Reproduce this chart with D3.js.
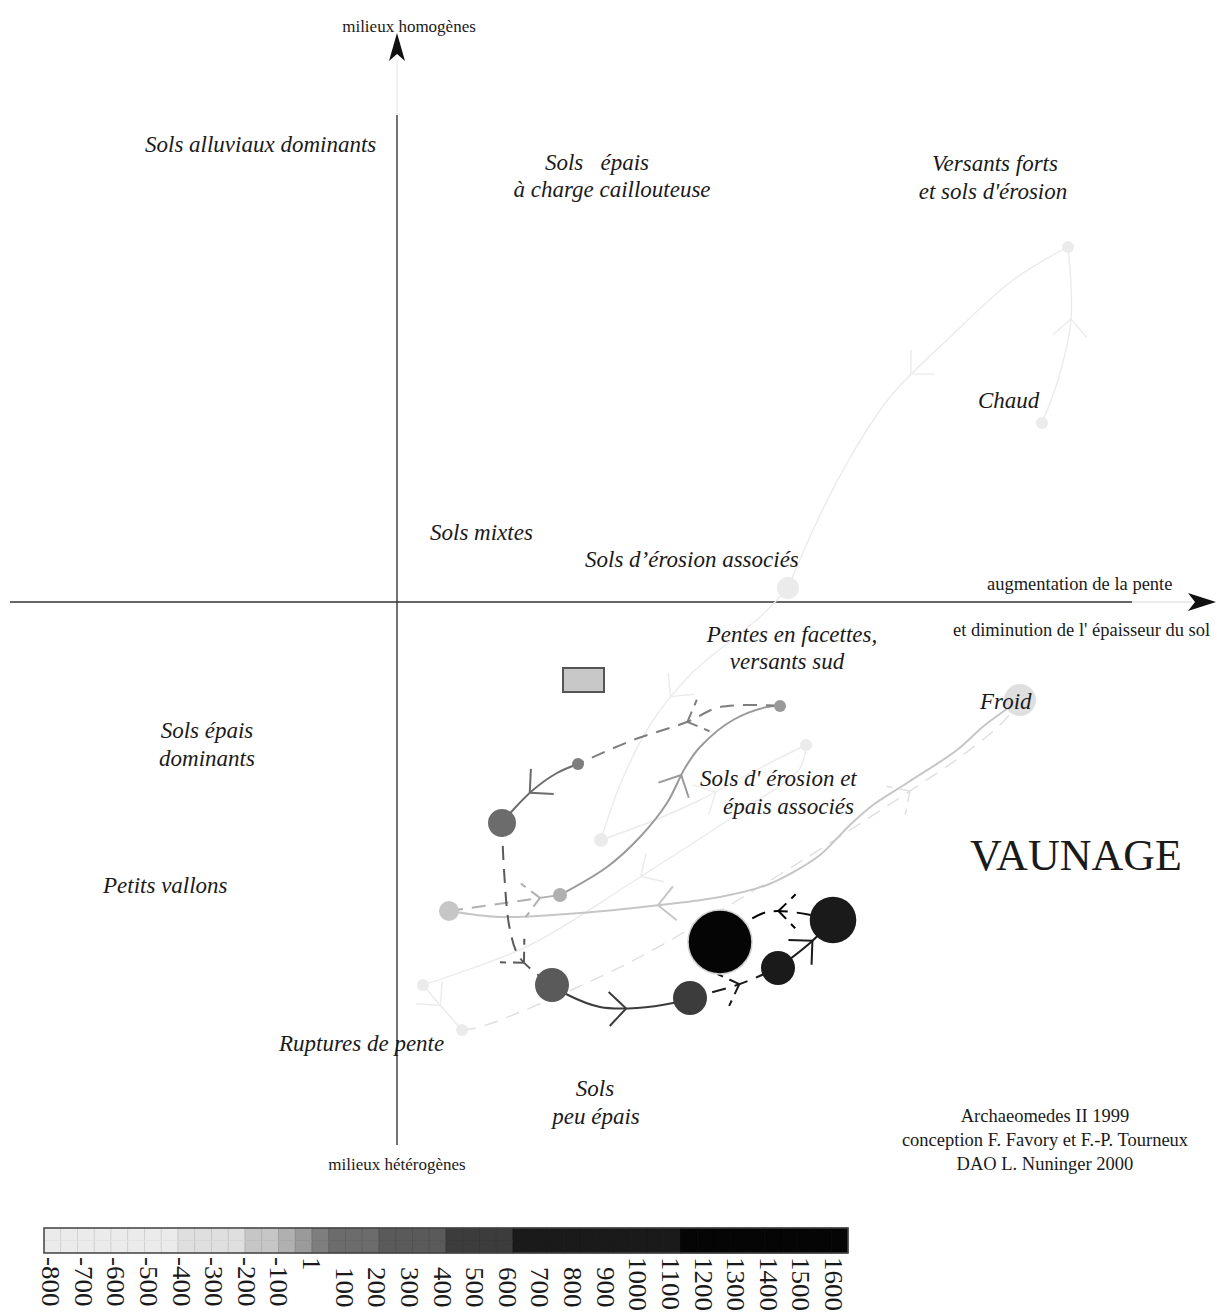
<!DOCTYPE html>
<html>
<head>
<meta charset="utf-8">
<script src="https://cdn.jsdelivr.net/npm/d3@7"></script>
<style>
  body { margin: 0; background: #fff; }
  svg text { font-family: "Liberation Serif", "Times New Roman", serif; fill: #1a1a1a; white-space: pre; }
  .zone { font-style: italic; font-size: 23px; }
  .plain { font-size: 18.5px; }
</style>
</head>
<body>
<svg id="chart" width="1217" height="1313"></svg>
<script>
// periods on the factor plane (x: slope / soil thickness, y: homogeneity)
const nodeX     = [6.71, 6.45, 3.91, 6.23, 3.83, 1.81, 1.05, 4.09, 2.04, 1.63, 0.52, 3.23, 4.36, 3.81, 1.55, 2.93, 0.26, 0.65];
const nodeY     = [3.55, 1.79, 0.14, -0.98, -1.04, -1.62, -2.21, -1.43, -2.38, -2.93, -3.09, -3.40, -3.18, -3.66, -3.83, -3.96, -3.83, -4.28];
const nodeValue = [-600, -600, -600, -300, -20, 20, 100, -600, -600, -70, -150, 1300, 800, 900, 300, 500, -600, -600];
const nodeSites = [35, 35, 118, 250, 35, 35, 191, 35, 48, 48, 98, 1000, 530, 282, 282, 282, 35, 35];

// trajectory steps: source, target, dashed?, intermediate points, arrow position along the step
const linkSource = [1, 0, 2, 8, 7, 16, 17, 3, 10, 9, 4, 5, 6, 14, 15, 13, 12];
const linkTarget = [0, 2, 8, 7, 16, 17, 3, 10, 9, 4, 5, 6, 14, 15, 13, 12, 11];
const linkDashed = [false, false, false, false, false, false, true, false, true, false, true, false, true, false, true, false, true];
const linkVia = [
  [[6.61, 2.22], [6.74, 2.82]],
  [[6.16, 3.22], [5.50, 2.62], [4.93, 2.05], [4.50, 1.39], [4.16, 0.72]],
  [[3.63, -0.15], [2.93, -0.73], [2.53, -1.23], [2.23, -1.83]],
  [[2.53, -2.20], [3.03, -1.98], [3.63, -1.66]],
  [[4.03, -1.66], [3.46, -2.08], [2.43, -2.75], [1.33, -3.43]],
  [[0.43, -4.03]],
  [[0.83, -4.25], [1.63, -3.93], [2.43, -3.55], [3.36, -3.01], [4.03, -2.60], [4.53, -2.28], [5.10, -1.91], [5.70, -1.50], [6.08, -1.18]],
  [[5.88, -1.23], [5.60, -1.48], [5.10, -1.81], [4.76, -2.03], [4.53, -2.23], [4.23, -2.53], [3.93, -2.72], [3.70, -2.83], [3.23, -2.95], [2.63, -3.03], [1.70, -3.12], [1.03, -3.15]],
  [],
  [[2.10, -2.65], [2.43, -2.35], [2.70, -2.01], [2.88, -1.66], [3.03, -1.45], [3.36, -1.18], [3.70, -1.05]],
  [[3.23, -1.05], [2.90, -1.20], [2.36, -1.38]],
  [[1.60, -1.71], [1.36, -1.88], [1.16, -2.08]],
  [[1.07, -2.68], [1.13, -3.28], [1.23, -3.56]],
  [[1.71, -3.93], [2.03, -4.05], [2.40, -4.06], [2.76, -4.01]],
  [[3.40, -3.83]],
  [[4.13, -3.41]],
  [[3.70, -3.10]]
];
const linkArrowAt = [0.6, 0.45, 0.5, 0.55, 0.47, 0.45, 0.78, 0.67, 0.82, 0.58, 0.45, 0.58, 0.8, 0.55, 0.55, 0.6, 0.45];

// grey classes of the legend bar
const legendLabels = ['-800', '-700', '-600', '-500', '-400', '-300', '-200', '-100', '1', '100', '200', '300', '400', '500', '600', '700', '800', '900', '1000', '1100', '1200', '1300', '1400', '1500', '1600'];
const legendBreaks = [-400, -200, -100, -50, 1, 50, 200, 400, 600, 1100];
const legendGreys  = ['#ebebeb', '#dfdfdf', '#c6c6c6', '#b0b0b0', '#9a9a9a', '#7e7e7e', '#6c6c6c', '#5a5a5a', '#3c3c3c', '#1a1a1a', '#050505'];

// texts placed on the plane
const zoneText   = ['Sols alluviaux dominants', 'Sols   épais', 'à charge caillouteuse', 'Versants forts', "et sols d'érosion", 'Chaud', 'Sols mixtes', 'Sols d’érosion associés', 'Pentes en facettes,', 'versants sud', 'Froid', 'Sols épais', 'dominants', "Sols d' érosion et", 'épais associés', 'Petits vallons', 'Ruptures de pente', 'Sols', 'peu épais'];
const zoneX      = [-2.52, 2.00, 2.15, 5.98, 5.96, 5.81, 0.33, 1.88, 3.95, 3.90, 5.83, -1.90, -1.90, 3.03, 4.57, -2.94, -1.18, 1.98, 1.99];
const zoneY      = [4.50, 4.32, 4.05, 4.31, 4.03, 1.94, 0.62, 0.35, -0.40, -0.67, -1.07, -1.36, -1.64, -1.84, -2.12, -2.91, -4.49, -4.94, -5.22];
const zoneAnchor = ['start', 'middle', 'middle', 'middle', 'middle', 'start', 'start', 'start', 'middle', 'middle', 'start', 'middle', 'middle', 'start', 'end', 'start', 'start', 'middle', 'middle'];

const creditLines = ['Archaeomedes II 1999', 'conception F. Favory et F.-P. Tourneux', 'DAO L. Nuninger 2000'];

const svg = d3.select('#chart');
const x = d3.scaleLinear().domain([-4, 8]).range([-3, 1197]);
const y = d3.scaleLinear().domain([6, -7]).range([2, 1302]);
const grey = d3.scaleThreshold().domain(legendBreaks).range(legendGreys);
const radius = d3.scaleSqrt().domain([0, d3.max(nodeSites)]).range([0, 32]);

// axes
const axes = svg.append('g');
axes.append('line').attr('x1', x(0)).attr('x2', x(0)).attr('y1', y(4.87)).attr('y2', y(-5.43))
  .attr('stroke', '#444').attr('stroke-width', 1.5);
axes.append('line').attr('x1', x(0)).attr('x2', x(0)).attr('y1', y(5.42)).attr('y2', y(4.87))
  .attr('stroke', '#e4e4e4').attr('stroke-width', 1);
axes.append('line').attr('x1', x(-3.87)).attr('x2', x(7.35)).attr('y1', y(0)).attr('y2', y(0))
  .attr('stroke', '#333').attr('stroke-width', 1.5);
axes.append('line').attr('x1', x(7.35)).attr('x2', x(7.95)).attr('y1', y(0)).attr('y2', y(0))
  .attr('stroke', '#d8d8d8').attr('stroke-width', 1);
const tipY = [x(0), y(5.69)];
axes.append('path').attr('fill', '#111')
  .attr('d', `M${tipY[0]},${tipY[1]} L${tipY[0] + 8},${tipY[1] + 28} L${tipY[0]},${tipY[1] + 21} L${tipY[0] - 8},${tipY[1] + 28}Z`);
const tipX = [x(8.19), y(0)];
axes.append('path').attr('fill', '#111')
  .attr('d', `M${tipX[0]},${tipX[1]} L${tipX[0] - 28},${tipX[1] - 9} L${tipX[0] - 21},${tipX[1]} L${tipX[0] - 28},${tipX[1] + 9}Z`);

axes.append('text').attr('class', 'plain').attr('x', x(0.12)).attr('y', 32).attr('text-anchor', 'middle').style('font-size', '17px').text('milieux homogènes');
axes.append('text').attr('class', 'plain').attr('x', x(0)).attr('y', 1170).attr('text-anchor', 'middle').style('font-size', '17px').text('milieux hétérogènes');
axes.append('text').attr('class', 'plain').attr('x', 987).attr('y', 590).text('augmentation de la pente');
axes.append('text').attr('class', 'plain').attr('x', 953).attr('y', 636).text("et diminution de l' épaisseur du sol");

// trajectory
const line = d3.line().x((d) => x(d[0])).y((d) => y(d[1])).curve(d3.curveCatmullRom.alpha(0.5));
const links = svg.append('g').attr('fill', 'none');

linkSource.forEach((s, i) => {
  const t = linkTarget[i];
  const pts = [[nodeX[s], nodeY[s]], ...linkVia[i], [nodeX[t], nodeY[t]]];
  const color = grey(nodeValue[t]);
  const dashed = linkDashed[i];
  const width = nodeValue[t] < -250 ? 1.4 : 2;
  const path = links.append('path')
    .attr('d', line(pts))
    .attr('stroke', color)
    .attr('stroke-width', width)
    .attr('stroke-dasharray', dashed ? '14,9' : null);

  // open chevron pointing along the step
  const node = path.node();
  const len = node.getTotalLength();
  const at = len * linkArrowAt[i];
  const p = node.getPointAtLength(at);
  const p0 = node.getPointAtLength(Math.max(0, at - 2));
  const p1 = node.getPointAtLength(Math.min(len, at + 2));
  const a = Math.atan2(p1.y - p0.y, p1.x - p0.x);
  const arm = 24;
  const spread = Math.PI / 4;
  [a + Math.PI - spread, a + Math.PI + spread].forEach((b) => {
    links.append('line')
      .attr('x1', p.x).attr('y1', p.y)
      .attr('x2', p.x + arm * Math.cos(b)).attr('y2', p.y + arm * Math.sin(b))
      .attr('stroke', color)
      .attr('stroke-width', width)
      .attr('stroke-dasharray', dashed ? '11,7' : null);
  });
});

// the small grey box
svg.append('rect')
  .attr('x', x(1.66)).attr('y', y(-0.66))
  .attr('width', x(2.07) - x(1.66)).attr('height', y(-0.90) - y(-0.66))
  .attr('fill', '#c8c8c8').attr('stroke', '#555').attr('stroke-width', 2);

// periods
svg.append('g').selectAll('circle')
  .data(nodeX)
  .join('circle')
  .attr('cx', (d) => x(d))
  .attr('cy', (d, i) => y(nodeY[i]))
  .attr('r', (d, i) => radius(nodeSites[i]))
  .attr('fill', (d, i) => grey(nodeValue[i]))
  .attr('stroke', (d, i) => (nodeValue[i] > 1000 ? '#d0d0d0' : 'none'))
  .attr('stroke-width', 1.5);

// zone names
svg.append('g').selectAll('text')
  .data(zoneText)
  .join('text')
  .attr('class', 'zone')
  .attr('x', (d, i) => x(zoneX[i]))
  .attr('y', (d, i) => y(zoneY[i]))
  .attr('text-anchor', (d, i) => zoneAnchor[i])
  .text((d) => d);

svg.append('text').attr('x', 970).attr('y', 870).style('font-size', '44px').text('VAUNAGE');

svg.append('g').selectAll('text')
  .data(creditLines)
  .join('text')
  .attr('class', 'plain')
  .attr('x', 1045)
  .attr('y', (d, i) => 1122 + i * 24)
  .attr('text-anchor', 'middle')
  .text((d) => d);

// legend bar
const legendValues = legendLabels.map(Number);
const barX = d3.scaleLinear().domain([0, legendValues.length - 1]).range([44, 848]);
const labelX = d3.scaleLinear().domain([0, legendValues.length - 1]).range([42, 825]);
const legend = svg.append('g');
const cells = [];
for (let i = 0; i < legendValues.length - 1; i++) {
  for (let h = 0; h < 2; h++) {
    const v = legendValues[i] + (legendValues[i + 1] - legendValues[i]) * (h + 0.5) / 2;
    cells.push({ x0: barX(i + h / 2), x1: barX(i + (h + 1) / 2), v });
  }
}
legend.selectAll('rect.cell')
  .data(cells)
  .join('rect')
  .attr('class', 'cell')
  .attr('x', (d) => d.x0).attr('y', 1228)
  .attr('width', (d) => d.x1 - d.x0).attr('height', 25)
  .attr('fill', (d) => grey(d.v))
  .attr('stroke', (d) => d3.color(grey(d.v)).darker(0.35))
  .attr('stroke-width', 0.8);
legend.selectAll('line.mid')
  .data(cells)
  .join('line')
  .attr('class', 'mid')
  .attr('x1', (d) => d.x0).attr('x2', (d) => d.x1)
  .attr('y1', 1240.5).attr('y2', 1240.5)
  .attr('stroke', (d) => d3.color(grey(d.v)).darker(0.15))
  .attr('stroke-width', 0.8);
legend.append('rect')
  .attr('x', barX(0)).attr('y', 1228)
  .attr('width', barX(legendValues.length - 1) - barX(0)).attr('height', 25)
  .attr('fill', 'none').attr('stroke', '#444').attr('stroke-width', 1.5);

legend.selectAll('text')
  .data(legendLabels)
  .join('text')
  .attr('transform', (d, i) => `translate(${labelX(i)},${d.length === 3 && d[0] !== '-' ? 1267 : 1257}) rotate(90) scale(1.08,1)`)
  .style('font-size', '25px')
  .text((d) => d);
</script>
</body>
</html>
